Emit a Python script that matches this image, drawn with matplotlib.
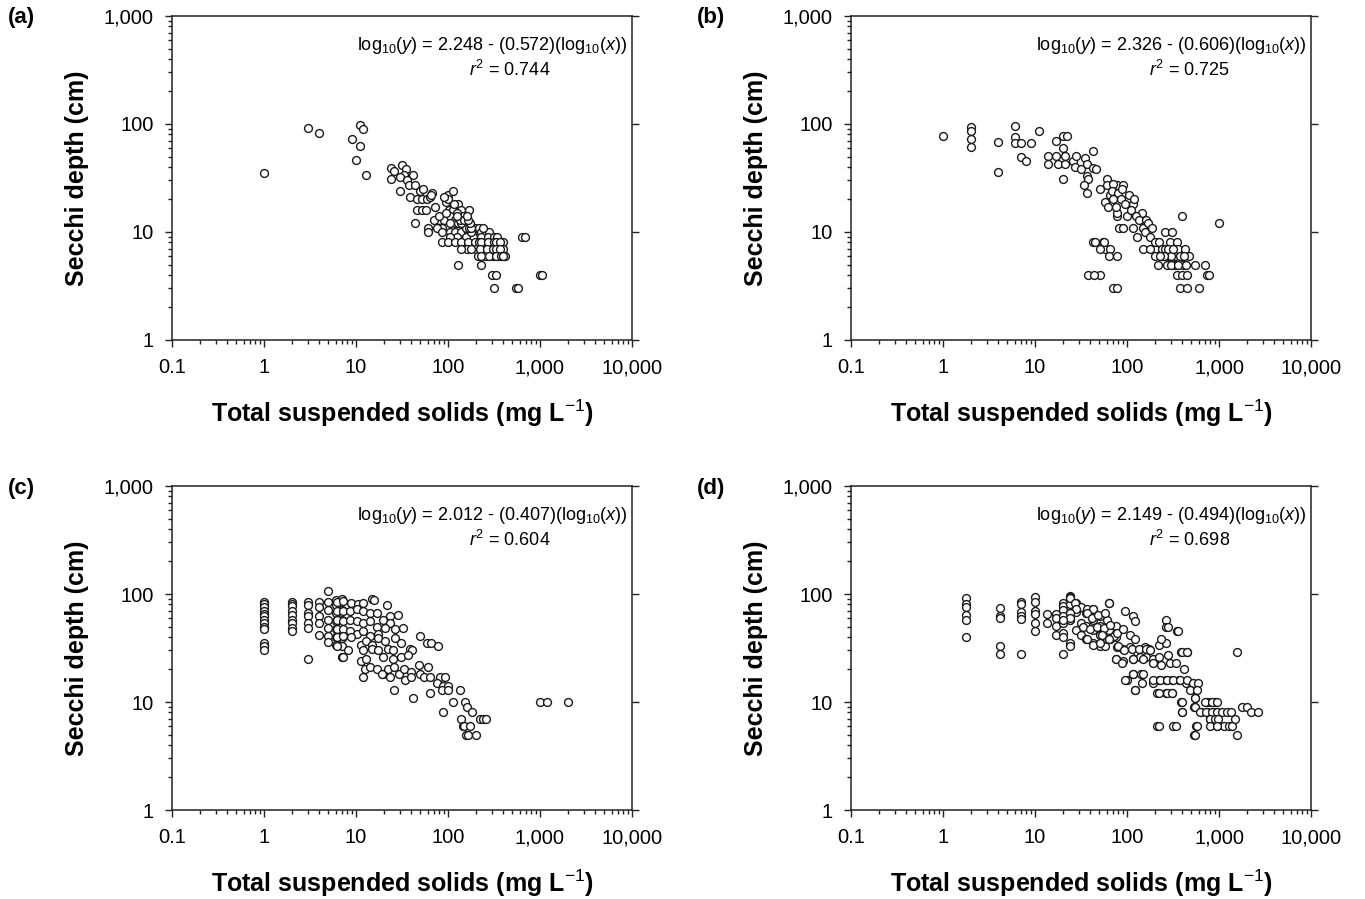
import numpy as np
import matplotlib.pyplot as plt
from matplotlib.ticker import FixedLocator, FuncFormatter, NullFormatter

plt.rcParams['font.family'] = ['Liberation Sans', 'DejaVu Sans']
plt.rcParams['mathtext.fontset'] = 'custom'
plt.rcParams['mathtext.rm'] = 'Liberation Sans'
plt.rcParams['mathtext.it'] = 'Liberation Sans:italic'

# --- data (TSS in mg/L, Secchi depth in cm) ---
a_tss = [1, 3, 4, 11, 12, 9, 11, 10, 13,
         24, 26, 32, 35, 33, 42, 24, 30, 36, 30, 39, 38, 44, 50, 54, 46, 52, 59, 63, 67, 100, 112,
         46, 52, 58, 72, 103, 112, 95, 100, 130, 140, 170, 80, 90, 105, 120, 145, 160, 120, 105, 85, 76, 60, 60, 44,
         85, 105, 120, 140, 165, 195, 215, 155, 210, 250, 295, 185, 155, 125, 105,
         85, 100, 120, 140, 165, 195, 250, 295, 350, 395, 395, 350, 285, 245, 200, 160, 140,
         210, 250, 305, 350, 410, 420, 130, 230, 300, 330, 320, 550, 570, 640, 680, 1000, 1060,
         70, 80, 95, 125, 115, 65, 90,
         180, 230, 260, 280, 230, 270, 320, 340, 215, 230, 270, 320, 330, 370,
         180, 220, 265, 310, 330, 370, 230, 280, 330, 380, 400,
         170, 180, 240, 130, 140, 175, 135, 150, 165, 160, 125]
a_secchi = [35, 92, 83, 98, 90, 72, 63, 46, 34,
            39, 37, 42, 38, 34, 34, 31, 32, 30, 24, 21, 27, 27, 24, 25, 20, 20, 20, 21, 23, 22, 24,
            16, 16, 16, 17, 16, 16, 19, 20, 18, 16, 16, 13, 13, 14, 13, 14, 12, 12, 12, 11, 11, 11, 10, 12,
            10, 10, 10, 10, 10, 11, 11, 11, 9, 9, 9, 9, 9, 9, 9,
            8, 8, 8, 8, 8, 8, 8, 8, 8, 8, 7, 7, 7, 7, 7, 7, 7,
            6, 6, 6, 6, 6, 6, 5, 5, 4, 4, 3, 3, 3, 9, 9, 4, 4,
            13, 14, 15, 15, 18, 22, 21,
            10, 10, 10, 10, 9, 9, 9, 9, 8, 8, 8, 8, 8, 8,
            7, 7, 7, 7, 7, 7, 6, 6, 6, 6, 6,
            11, 11, 11, 12, 12, 12, 13, 13, 13, 14, 14]

b_tss = [1, 2, 2, 2, 2, 4, 4, 6, 6, 6, 7, 7, 8, 9, 11,
         14, 17, 17, 20, 22, 20, 20, 14, 18, 21, 21, 26, 28, 27, 35, 32, 37, 43, 43, 37, 38, 46, 34, 37,
         51, 60, 65, 58, 77, 62, 78, 82, 43, 45, 55, 57,
         60, 71, 91, 68, 80, 103, 117, 144, 78, 99, 90, 117, 151, 127, 157, 201, 148, 178,
         201, 238, 281, 333, 393, 475, 219, 270, 333, 409, 548, 704, 259, 306, 292, 347, 360, 427,
         347, 393, 450, 735, 776, 377, 452, 611, 70, 78, 51, 393, 1000, 56, 65, 63, 77, 51, 38, 44,
         180, 200, 220, 240, 260, 280, 300, 320, 250, 230, 300, 360, 380, 420, 440,
         85, 95, 110, 125, 135, 160, 170, 185, 105, 120, 88, 70, 75]
b_secchi = [77, 94, 86, 72, 61, 68, 36, 95, 76, 67, 67, 49, 45, 67, 86,
            51, 51, 70, 78, 77, 60, 31, 43, 43, 43, 51, 45, 51, 40, 48, 38, 43, 56, 39, 33, 31, 38, 27, 23,
            25, 31, 22, 19, 27, 17, 14, 11, 8, 8, 8, 7,
            27, 28, 27, 24, 23, 20, 18, 15, 15, 14, 11, 11, 11, 9, 10, 7, 7, 7,
            6, 6, 6, 6, 6, 6, 5, 5, 5, 5, 5, 5, 10, 10, 8, 8, 7, 7,
            4, 4, 4, 4, 4, 3, 3, 3, 3, 3, 4, 14, 12, 8, 7, 6, 6, 7, 4, 4,
            9, 8, 8, 7, 7, 7, 6, 7, 6, 6, 5, 5, 6, 6, 5,
            20, 18, 16, 14, 13, 13, 12, 11, 22, 20, 25, 20, 17]

c_tss = [1, 1, 1, 1, 1, 1, 1, 1, 1, 1, 1, 1, 1,
         2, 2, 2, 2, 2, 2, 2, 2, 2,
         3, 3, 3, 3, 3, 3, 3,
         4, 4, 4, 4, 4,
         5, 5, 5, 5, 5, 5, 5,
         6, 6, 6, 6, 6, 6, 6,
         7, 7, 7, 7, 7, 7, 7,
         6.2, 7.3, 8.9, 10.5, 12, 15, 15.5, 21.5, 28.8, 23.4,
         6.2, 7.3, 8.6, 10.2, 12, 14.2, 16.8, 19.8, 23.4,
         6.2, 7.3, 8.6, 10.2, 12, 14.2, 16.8, 20.5, 26.6, 32.7,
         6.2, 7.3, 8.6, 10.2, 12, 14.2, 17.5,
         6.2, 7.3, 8.9, 11.2, 12.8, 15, 17.5, 20.5, 26.6, 31,
         6.2, 7.3, 8.2, 12, 14.8, 17.5, 22.4, 25, 38.6, 41,
         11.2, 12.8, 19.8, 25, 31, 37, 49.6, 58.5, 66, 78.5,
         12.5, 14.2, 17, 19.8, 22, 26, 29, 33, 40, 48, 61, 82, 93,
         12, 19, 23.4, 34, 40, 50, 55, 64,
         26, 42, 64, 75, 88, 100, 86, 100,
         114, 135, 153, 160, 181, 88,
         140, 145, 150, 155, 165, 200, 175, 220, 240, 260, 1000, 1200, 2000]
c_secchi = [84, 80, 75, 69, 65, 62, 57, 54, 50, 47, 35, 33, 30,
            85, 80, 77, 69, 64, 58, 54, 48, 45,
            85, 79, 67, 62, 54, 48, 25,
            85, 76, 62, 54, 42,
            106, 85, 71, 58, 48, 41, 36,
            88, 79, 67, 56, 47, 40, 34,
            89, 71, 58, 45, 39, 33, 26,
            84, 86, 82, 80, 82, 90, 88, 79, 64, 62,
            69, 69, 69, 72, 69, 67, 67, 58, 54,
            58, 56, 58, 56, 54, 56, 50, 48, 47, 48,
            47, 47, 45, 43, 45, 41, 43,
            40, 41, 40, 34, 37, 34, 39, 37, 39, 35,
            33, 26, 30, 30, 31, 30, 31, 30, 31, 30,
            24, 25, 26, 25, 26, 27, 41, 35, 35, 33,
            20, 21, 20, 18, 20, 21, 18, 20, 19, 22, 21, 17, 17,
            17, 18, 17, 16, 17, 18, 17, 17,
            13, 11, 12, 15, 14, 14, 13, 13,
            10, 13, 10, 9, 8, 8,
            7, 6, 6, 5, 5, 5, 6, 7, 7, 7, 10, 10, 10]

d_tss = [1.78, 1.78, 1.78, 1.78, 1.78, 1.78,
         4.2, 4.2, 4.2, 4.2, 4.2,
         7, 7, 7, 7, 7, 7,
         10, 10, 10, 10, 10, 10,
         13.4, 13.4,
         16.8, 16.8, 16.8, 16.8,
         20.3, 20.3, 20.3, 20.3, 20.3, 20.3, 20.3, 20.3,
         24, 24, 24, 24, 24, 24, 24,
         28, 28, 28, 32, 32, 32, 36, 36, 36, 43, 43, 43, 43, 51, 51, 51, 51, 63, 60, 63, 66, 57, 75, 75, 75,
         24, 24, 27, 28, 24, 24, 20,
         36.5, 43, 36.5, 42, 49, 58, 63,
         33, 40, 47, 56, 66,
         36.5, 43, 51, 61, 72,
         77, 91, 108, 122, 95, 117, 122,
         77, 91, 108, 128, 155, 175,
         91, 117, 137, 162, 190, 224,
         99, 117, 143, 122, 146,
         190, 224, 265, 312, 370, 437, 515, 555,
         210, 265, 312, 383, 393, 540, 555,
         210, 320, 540, 560,
         224, 265, 383, 445, 350, 265, 265,
         735, 820, 900, 640, 735, 850, 950, 790, 950,
         54, 64, 79, 93, 113, 135, 162, 178, 75, 88, 117, 150, 193, 233, 290, 345, 420, 233, 280, 360, 280,
         393, 453, 1550, 117, 150, 95, 193, 228, 270, 319, 377, 446, 526, 595, 121, 225, 270, 305, 480, 570,
         393, 548, 704, 832, 944, 400, 548, 621, 730, 832, 944, 1070, 1210, 1360, 1800, 2020, 2200, 2670,
         800, 900, 980, 1120, 1270, 1380, 580, 800, 944, 220, 340, 548, 1550, 1480]
d_secchi = [92, 80, 76, 64, 58, 40,
            74, 63, 60, 33, 28,
            85, 80, 68, 63, 59, 28,
            94, 84, 70, 65, 54, 45,
            65, 54,
            65, 60, 51, 42,
            83, 77, 71, 62, 54, 44, 40, 28,
            95, 90, 80, 67, 58, 35, 33,
            83, 68, 46, 75, 54, 42, 67, 51, 38, 72, 58, 46, 35, 62, 51, 42, 33, 83, 58, 46, 38, 33, 51, 40, 25,
            94, 92, 82, 72, 67, 60, 58,
            72, 72, 66, 60, 64, 67, 83,
            50, 47, 50, 48, 52,
            38, 34, 35, 38, 41,
            44, 47, 42, 38, 69, 62, 56,
            32, 31, 32, 29, 32, 31,
            24, 25, 26, 26, 25, 26,
            16, 18, 18, 13, 15,
            15, 16, 16, 16, 16, 15, 15, 13,
            12, 12, 12, 10, 8, 9, 11,
            6, 6, 5, 6,
            34, 35, 29, 29, 45, 58, 50,
            10, 10, 10, 8, 8, 8, 8, 7, 6,
            42, 38, 33, 30, 31, 31, 31, 30, 25, 23, 25, 25, 23, 22, 23, 23, 20, 38, 27, 45, 50,
            29, 29, 29, 18, 18, 16, 16, 16, 16, 16, 16, 16, 15, 15, 13, 12, 12, 12, 13, 13,
            10, 11, 10, 10, 10, 8, 9, 8, 8, 8, 8, 8, 8, 8, 9, 9, 8, 8,
            7, 7, 7, 6, 6, 6, 6, 6, 6, 6, 6, 5, 5, 7]

panel_letters = ['(a)', '(b)', '(c)', '(d)']
equations = ['2.248 - (0.572)', '2.326 - (0.606)', '2.012 - (0.407)', '2.149 - (0.494)']
r2_values = ['0.744', '0.725', '0.604', '0.698']
x_ticks = [0.1, 1, 10, 100, 1000, 10000]
y_ticks = [1, 10, 100, 1000]

panels = [(a_tss, a_secchi), (b_tss, b_secchi), (c_tss, c_secchi), (d_tss, d_secchi)]

W, H = 1365, 899
fig = plt.figure(figsize=(W / 100, H / 100), dpi=100)

# axes boxes in pixels: left, top, right, bottom
boxes = [(172, 16, 632, 340), (851, 16, 1311, 340),
         (172, 486, 632, 810), (851, 486, 1311, 810)]
letter_x = [8, 697, 8, 697]
cond = ['Liberation Sans Narrow', 'Liberation Sans', 'DejaVu Sans']


def fmt(v, pos):
    return f'{v:,.0f}' if v >= 1 else f'{v:g}'


for i, (xs, ys) in enumerate(panels):
    l, t, r, b = boxes[i]
    ax = fig.add_axes([l / W, 1 - b / H, (r - l) / W, (b - t) / H])
    ax.scatter(xs, ys, s=32, facecolors='white', edgecolors='#1a1a1a', linewidths=1.0, zorder=3)
    ax.set_xscale('log')
    ax.set_yscale('log')
    ax.set_xlim(0.1, 10000)
    ax.set_ylim(1, 1000)
    ax.xaxis.set_major_locator(FixedLocator(x_ticks))
    ax.yaxis.set_major_locator(FixedLocator(y_ticks))
    ax.xaxis.set_major_formatter(FuncFormatter(fmt))
    ax.yaxis.set_major_formatter(FuncFormatter(fmt))
    ax.xaxis.set_minor_formatter(NullFormatter())
    ax.yaxis.set_minor_formatter(NullFormatter())
    ax.tick_params(which='both', direction='out', labelsize=14.5, color='#222', width=1)
    ax.tick_params(which='major', length=5, pad=8)
    ax.tick_params(which='minor', length=3)
    ax.tick_params(axis='y', right=True)
    for sp in ax.spines.values():
        sp.set_linewidth(1.1)
        sp.set_color('#222')

    ax.text(0.99, 0.91, r'log$_{10}$($y$) = ' + equations[i] + r'(log$_{10}$($x$))',
            transform=ax.transAxes, ha='right', va='center', fontsize=13)
    ax.text(0.735, 0.835, r'$r^2$ = ' + r2_values[i],
            transform=ax.transAxes, ha='center', va='center', fontsize=13)

    cx = (l + r) / 2
    fig.text(cx / W, 1 - (b + 73) / H, 'Total suspended solids (mg L$^{-1}$)',
             ha='center', va='center', fontsize=18, fontweight='bold', family=cond)
    fig.text((l - 95) / W, 1 - ((t + b) / 2) / H, 'Secchi depth (cm)',
             ha='center', va='center', rotation=90, fontsize=18, fontweight='bold', family=cond)
    fig.text(letter_x[i] / W, 1 - (t + 2) / H, panel_letters[i],
             ha='left', va='center', fontsize=16, fontweight='bold', family=cond)

fig.savefig('out.png', dpi=100)
